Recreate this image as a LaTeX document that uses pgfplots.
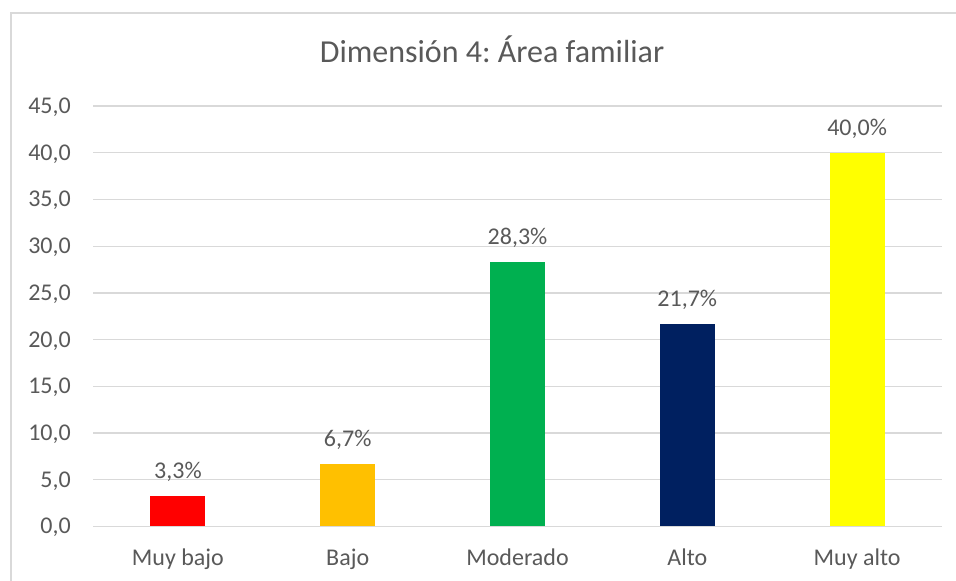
\documentclass[border=0pt]{standalone}
\usepackage{pgfplots}
\pgfplotsset{compat=1.18}
\usepackage{fontspec}
\setmainfont{Carlito}
\frenchspacing
\definecolor{txt}{HTML}{595959}
\definecolor{gridc}{HTML}{D9D9D9}
\definecolor{cRed}{HTML}{FF0000}
\definecolor{cOrange}{HTML}{FFC000}
\definecolor{cGreen}{HTML}{00B050}
\definecolor{cNavy}{HTML}{002060}
\definecolor{cYellow}{HTML}{FFFF00}
\begin{document}
\begin{tikzpicture}
\begin{axis}[
  scale only axis,
  width=849bp, height=420.5bp,
  xmin=-0.5, xmax=4.5,
  ymin=0, ymax=45,
  ytick={0,5,...,45},
  xtick={0,1,2,3,4},
  xticklabels={Muy bajo,Bajo,Moderado,Alto,Muy alto},
  axis line style={draw=none},
  major tick length=0pt,
  tick style={draw=none},
  xmajorgrids=false,
  ymajorgrids=true,
  major grid style={draw=gridc, line width=1.3bp},
  clip=false,
  /pgf/number format/assume math mode=true,
  yticklabel={\pgfmathprintnumber[fixed,fixed zerofill,precision=1,use comma]{\tick}},
  yticklabel style={anchor=base east, inner sep=0pt, xshift=-22bp, yshift=-7.5bp, font=\fontsize{24bp}{28bp}\selectfont, text=txt},
  xticklabel style={anchor=base, inner sep=0pt, yshift=-39bp, font=\fontsize{24bp}{28bp}\selectfont, text=txt},
  ybar, bar width=55bp, bar shift=0pt,
  nodes near coords={\pgfmathprintnumber[fixed,fixed zerofill,precision=1,use comma]{\pgfplotspointmeta}\%},
  nodes near coords style={anchor=base, inner sep=0pt, yshift=17.5bp, font=\fontsize{24bp}{28bp}\selectfont, text=txt, /pgf/number format/assume math mode=true},
]
\addplot[fill=cRed, draw=none] coordinates {(0,3.3)};
\addplot[fill=cOrange, draw=none] coordinates {(1,6.7)};
\addplot[fill=cGreen, draw=none] coordinates {(2,28.3)};
\addplot[fill=cNavy, draw=none] coordinates {(3,21.7)};
\addplot[fill=cYellow, draw=none] coordinates {(4,40.0)};
\node[anchor=base, inner sep=0pt, text=txt, font=\fontsize{32bp}{38bp}\selectfont] at (rel axis cs:0.470,1.1046) {Dimensión 4: Área familiar};
\draw[gridc, line width=1.5bp] (rel axis cs:-0.09658,-0.2) -- (rel axis cs:-0.09658,1.22117) -- (rel axis cs:1.1,1.22117);
\coordinate (bl) at (rel axis cs:-0.10954,-0.12961);
\coordinate (tr) at (rel axis cs:1.01649,1.25208);
\end{axis}
\pgfresetboundingbox
\path[use as bounding box] (bl) rectangle (tr);
\end{tikzpicture}
\end{document}
